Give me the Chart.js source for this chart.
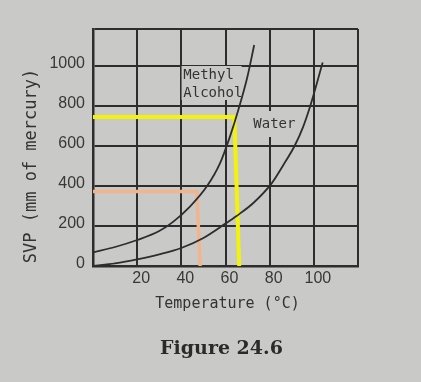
<!DOCTYPE html>
<html lang="en">
<head>
    <meta charset="UTF-8">
    <title>Figure 24.6</title>
    <script src="https://cdn.jsdelivr.net/npm/chart.js"></script>
    <style>
        body { margin: 0; background: #c9c9c7; }
        #wrap { width: 421px; height: 382px; }
    </style>
</head>
<body>
    <div id="wrap"><canvas id="svpChart" width="421" height="382"></canvas></div>

    <script>
        // values
        const xTicks = [0, 20, 40, 60, 80, 100, 120];
        const yTicks = [0, 200, 400, 600, 800, 1000, 1185];

        const methylTemp = [0, 10, 20, 30, 36.4, 43.9, 51.5, 57.5, 62, 65.8, 69.9, 73];
        const methylSvp = [68, 95, 130, 175, 222, 297, 397, 513, 647, 780, 945, 1105];

        const waterTemp = [0, 10, 20, 30, 40, 50, 60, 65, 72.6, 80.9, 86.2, 91.5, 95.2, 98.3, 104];
        const waterSvp = [0, 13, 33, 58, 90, 140, 212, 250, 315, 413, 505, 605, 697, 797, 1017];

        // highlighted readings (boiling points)
        const yellowTemp = [0, 64, 66.2];
        const yellowSvp = [745, 745, 0];
        const orangeTemp = [0, 47, 48.5];
        const orangeSvp = [372, 372, 0];

        const ink = '#2d2d2d';
        const paper = '#c9c9c7';

        function points(xs, ys) {
            return xs.map((x, i) => ({ x: x, y: ys[i] }));
        }

        // background, label boxes and the texts around the plot
        const figureText = {
            id: 'figureText',
            beforeDraw(chart) {
                const c = chart.ctx;
                c.save();
                c.fillStyle = paper;
                c.fillRect(0, 0, chart.width, chart.height);
                c.restore();
            },
            beforeDatasetsDraw(chart) {
                const c = chart.ctx;
                const x = chart.scales.x, y = chart.scales.y;
                c.save();
                // boxes that break the grid under the curve names
                c.fillStyle = paper;
                c.fillRect(x.getPixelForValue(40.1), y.getPixelForValue(1000), 60, 34);
                c.fillRect(x.getPixelForValue(71.2), y.getPixelForValue(775), 48, 26);

                c.fillStyle = '#333';
                c.font = '14px "DejaVu Sans Mono"';
                c.textAlign = 'left';
                c.textBaseline = 'middle';
                c.fillText('Methyl', x.getPixelForValue(40.9), y.getPixelForValue(955));
                c.fillText('Alcohol', x.getPixelForValue(40.9), y.getPixelForValue(865));
                c.fillText('Water', x.getPixelForValue(72.6), y.getPixelForValue(710));
                c.restore();
            },
            afterDraw(chart) {
                const c = chart.ctx;
                const a = chart.chartArea;
                c.save();
                c.fillStyle = '#333';
                c.textAlign = 'center';
                c.textBaseline = 'middle';
                c.font = '15px "DejaVu Sans Mono"';
                c.fillText('Temperature (°C)', (a.left + a.right) / 2 + 2, a.bottom + 38);

                c.translate(32, a.bottom - 100);
                c.rotate(-Math.PI / 2);
                c.font = '17px "DejaVu Sans Mono"';
                c.fillText('SVP (mm of mercury)', 0, 0);
                c.restore();

                c.save();
                c.fillStyle = '#2a2a2a';
                c.textAlign = 'center';
                c.textBaseline = 'middle';
                c.font = 'bold 19px "DejaVu Serif"';
                c.fillText('Figure 24.6', (a.left + a.right) / 2 - 4, a.bottom + 83);
                c.restore();
            }
        };

        const svpChart = new Chart(document.getElementById('svpChart').getContext('2d'), {
            type: 'line',
            data: {
                datasets: [
                    {
                        label: 'Methyl Alcohol',
                        data: points(methylTemp, methylSvp),
                        borderColor: ink,
                        borderWidth: 1.8,
                        pointRadius: 0,
                        cubicInterpolationMode: 'monotone'
                    },
                    {
                        label: 'Water',
                        data: points(waterTemp, waterSvp),
                        borderColor: ink,
                        borderWidth: 1.8,
                        pointRadius: 0,
                        cubicInterpolationMode: 'monotone'
                    },
                    {
                        label: 'Methyl boiling point',
                        data: points(yellowTemp, yellowSvp),
                        borderColor: '#f2f20a',
                        borderWidth: 4,
                        pointRadius: 0,
                        tension: 0
                    },
                    {
                        label: 'Orange reading',
                        data: points(orangeTemp, orangeSvp),
                        borderColor: '#f2b48c',
                        borderWidth: 3.5,
                        pointRadius: 0,
                        tension: 0
                    }
                ]
            },
            options: {
                responsive: false,
                animation: false,
                devicePixelRatio: 1,
                layout: { padding: { top: 29, right: 63, left: 0, bottom: 0 } },
                plugins: {
                    legend: { display: false },
                    tooltip: { enabled: false }
                },
                scales: {
                    x: {
                        type: 'linear',
                        min: 0,
                        max: 120,
                        afterBuildTicks: s => { s.ticks = xTicks.map(v => ({ value: v })); },
                        afterFit: s => { s.height = 116; },
                        grid: { color: ink, lineWidth: 2, drawTicks: false },
                        border: { color: ink, width: 2.5 },
                        ticks: {
                            padding: 3,
                            labelOffset: 4,
                            color: '#383838',
                            font: { family: '"Liberation Sans"', size: 16 },
                            callback: v => (v === 0 || v === 120) ? '' : v
                        }
                    },
                    y: {
                        type: 'linear',
                        min: 0,
                        max: 1185,
                        afterBuildTicks: s => { s.ticks = yTicks.map(v => ({ value: v })); },
                        afterFit: s => { s.width = 93; },
                        grid: { color: ink, lineWidth: 2, drawTicks: false },
                        border: { color: ink, width: 2.5 },
                        ticks: {
                            padding: 8,
                            labelOffset: -2,
                            color: '#383838',
                            font: { family: '"Liberation Sans"', size: 16 },
                            callback: v => v === 1185 ? '' : v
                        }
                    }
                }
            },
            plugins: [figureText]
        });
    </script>
</body>
</html>
